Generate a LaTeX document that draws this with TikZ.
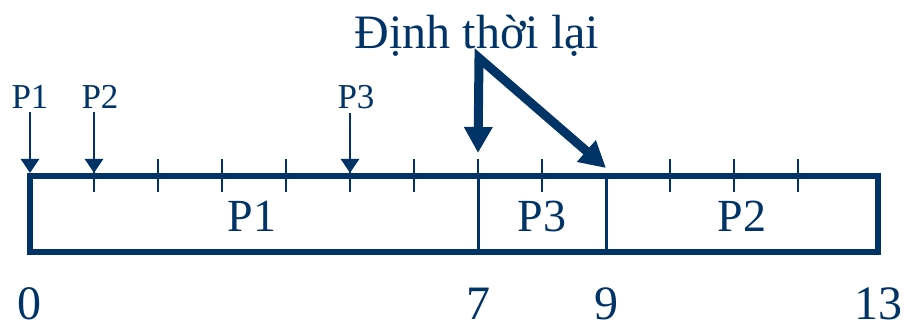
\documentclass[tikz,border=0pt]{standalone}
\usepackage{fontspec}
\setmainfont{Liberation Serif}
\usetikzlibrary{arrows.meta}
\definecolor{navy}{RGB}{0,51,102}

\begin{document}
\begin{tikzpicture}[
  x=0.5pt, y=-0.5pt,
  every node/.style={text=navy, inner sep=0pt},
  bar/.style={draw=navy, line width=3pt},
  divider/.style={draw=navy, line width=1.5pt},
  tick/.style={draw=navy, line width=1.2pt},
  arrive/.style={draw=navy, line width=1.3pt, -{Triangle[length=7pt, width=9pt]}, shorten <=1.5pt},
  resched/.style={draw=navy, line width=4.5pt,
    {Triangle[length=13pt, width=13.5pt]}-{Triangle[length=13pt, width=13.5pt]}},
  proclabel/.style={font=\fontsize{17.5}{20}\selectfont, anchor=base},
  blocklabel/.style={font=\fontsize{23}{26}\selectfont, anchor=base},
  timelabel/.style={font=\fontsize{24}{28}\selectfont, anchor=base},
  titlelabel/.style={font=\fontsize{24}{28}\selectfont, anchor=base}
]
\useasboundingbox (0,0) rectangle (905,331);

% ----------------- TIME POINTS -----------------
\coordinate (t0) at (30,176);
\coordinate (t7) at (478,176);
\coordinate (t9) at (606,176);
\coordinate (t13) at (878,176);
\coordinate (b7) at (478,252);
\coordinate (b9) at (606,252);

% ----------------- GANTT BAR -----------------
\draw[bar] (30,176) rectangle (878,252);
\foreach \t in {1,...,8,10,11,12}
  \draw[tick] ({30+64*\t},159) -- ({30+64*\t},192);
\draw[divider] (t7) -- (b7);
\draw[divider] (t9) -- (b9);

\node[blocklabel] (blk_p1) at (252,232) {P1};
\node[blocklabel] (blk_p3) at (542,232) {P3};
\node[blocklabel] (blk_p2) at (742,232) {P2};

% ----------------- ARRIVALS -----------------
\node[proclabel] (arr_p1) at (30,109) {P1};
\node[proclabel] (arr_p2) at (100,109) {P2};
\node[proclabel] (arr_p3) at (356,109) {P3};

\coordinate (a0) at (30,173);
\coordinate (a1) at (94,173);
\coordinate (a5) at (350,173);

\draw[arrive] (arr_p1.south -| a0) -- (a0);
\draw[arrive] (arr_p2.south -| a1) -- (a1);
\draw[arrive] (arr_p3.south -| a5) -- (a5);

% ----------------- RESCHEDULING -----------------
\node[titlelabel] (title) at (477,49) {Định thời lại};
\coordinate (bend) at (479,58);
\coordinate (a7) at (478,153);
\coordinate (a9) at (606,168);
\draw[resched] (a7) -- (bend) -- (a9);

% ----------------- TIME AXIS -----------------
\node[timelabel] (lbl0) at (30,320) {0};
\node[timelabel] (lbl7) at (478,320) {7};
\node[timelabel] (lbl9) at (606,320) {9};
\node[timelabel] (lbl13) at (878,320) {13};

\end{tikzpicture}
\end{document}
